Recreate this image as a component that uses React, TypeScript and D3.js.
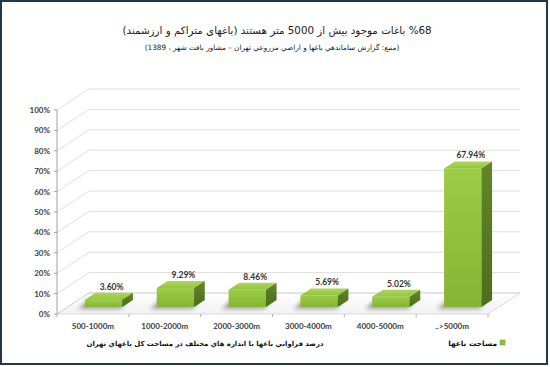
import { useEffect, useRef } from 'react'
import * as d3 from 'd3'

const categories = ['500-1000m', '1000-2000m', '2000-3000m', '3000-4000m', '4000-5000m', '..>5000m']
const shares = [3.6, 9.29, 8.46, 5.69, 5.02, 67.94]
const yTicks = [0, 10, 20, 30, 40, 50, 60, 70, 80, 90, 100]

const titleText = '%68 باغات موجود بیش از 5000 متر هستند (باغهای متراکم و ارزشمند)'
const sourceText = '(منبع: گزارش ساماندهي باغها و اراضي مزروعي تهران – مشاور بافت شهر ، 1389)'
const axisTitle = 'درصد فراواني باغها با اندازه هاي مختلف در مساحت كل باغهاي تهران'
const legendLabel = 'مساحت باغها'

const W = 550
const H = 367

export default function App() {
  const svgRef = useRef<SVGSVGElement | null>(null)

  useEffect(() => {
    if (!svgRef.current) return
    const svg = d3.select(svgRef.current)
    svg.selectAll('*').remove()

    // 3d depth of the floor and of the bars
    const depth = { dx: 32, dy: -21 }
    const x = d3.scaleBand<string>().domain(categories).range([57, 488])
    const y = d3.scaleLinear().domain([0, 100]).range([314, 110])
    const latin = 'Lato, "Open Sans", sans-serif'
    const persian = '"DejaVu Sans", sans-serif'

    const defs = svg.append('defs')
    const grad = (id: string, c1: string, c2: string, horiz = false) => {
      const g = defs.append('linearGradient').attr('id', id)
        .attr('x1', 0).attr('y1', 0).attr('x2', horiz ? 1 : 0).attr('y2', horiz ? 0 : 1)
      g.append('stop').attr('offset', '0%').attr('stop-color', c1)
      g.append('stop').attr('offset', '100%').attr('stop-color', c2)
    }
    grad('front', '#9dcc45', '#84b533')
    grad('top', '#aed757', '#93c342')
    grad('side', '#62852a', '#4e6d1d')
    grad('floor', '#ffffff', '#f2f2f2')
    defs.append('filter').attr('id', 'blur').attr('x', '-50%').attr('y', '-50%')
      .attr('width', '200%').attr('height', '200%')
      .append('feGaussianBlur').attr('stdDeviation', 2.2)

    svg.append('rect').attr('x', 1).attr('y', 1).attr('width', W - 4).attr('height', H - 4)
      .attr('fill', '#fff').attr('stroke', '#263548').attr('stroke-width', 2)

    // title
    svg.append('text').attr('x', 277).attr('y', 34).attr('text-anchor', 'middle')
      .attr('direction', 'rtl').style('unicode-bidi', 'plaintext')
      .attr('font-family', persian).attr('font-size', 10.3).attr('fill', '#222')
      .text(titleText)
    svg.append('text').attr('x', 272).attr('y', 50).attr('text-anchor', 'middle')
      .attr('direction', 'rtl').style('unicode-bidi', 'plaintext')
      .attr('font-family', persian).attr('font-size', 7.3).attr('fill', '#222')
      .text(sourceText)

    const x0 = x.range()[0]
    const x1 = x.range()[1]
    const y0 = y(0)

    // floor
    svg.append('path')
      .attr('d', `M${x0},${y0}L${x1},${y0}L${x1 + depth.dx},${y0 + depth.dy}L${x0 + depth.dx},${y0 + depth.dy}Z`)
      .attr('fill', 'url(#floor)').attr('stroke', '#d0d0d0').attr('stroke-width', 0.8)

    // wall grid
    const grid = svg.append('g').attr('stroke', '#d6d6d6').attr('stroke-width', 0.8).attr('fill', 'none')
    yTicks.forEach(t => {
      const yy = y(t)
      grid.append('path')
        .attr('d', `M${x0},${yy}L${x0 + depth.dx},${yy + depth.dy}L${x1 + depth.dx},${yy + depth.dy}`)
    })

    // y axis
    const axis = svg.append('g').attr('stroke', '#8c8c8c').attr('stroke-width', 0.8)
    axis.append('line').attr('x1', x0).attr('x2', x0).attr('y1', y(100)).attr('y2', y0)
    yTicks.forEach(t => {
      axis.append('line').attr('x1', x0 - 3).attr('x2', x0).attr('y1', y(t)).attr('y2', y(t))
    })
    svg.append('g').selectAll('text').data(yTicks).join('text')
      .attr('x', 50).attr('y', d => y(d) + 3).attr('text-anchor', 'end')
      .attr('font-family', latin).attr('font-size', 8).attr('font-weight', 700).attr('fill', '#404040')
      .text(d => `${d}%`)

    // category ticks on floor front edge
    const bounds = categories.map(c => x(c) ?? 0).concat([x1])
    svg.append('g').selectAll('line').data(bounds).join('line')
      .attr('x1', d => d).attr('x2', d => d).attr('y1', y0).attr('y2', y0 + 3)
      .attr('stroke', '#a0a0a0').attr('stroke-width', 0.8)

    svg.append('g').selectAll('text').data(categories).join('text')
      .attr('x', d => (x(d) ?? 0) + x.bandwidth() / 2).attr('y', 329).attr('text-anchor', 'middle')
      .attr('font-family', latin).attr('font-size', 8).attr('font-weight', 700).attr('fill', '#404040')
      .text(d => d)

    // bars
    const f = { dx: depth.dx / 3, dy: depth.dy / 3 }
    const half = x.bandwidth() * 0.26
    const bars = svg.append('g')
    categories.forEach((c, i) => {
      const v = shares[i]
      const cx = (x(c) ?? 0) + x.bandwidth() / 2 + f.dx
      const l = cx - half
      const r = cx + half
      const b = y0 + f.dy
      const t = y(v) + f.dy
      const g = bars.append('g')
      g.append('path')
        .attr('d', `M${l - 7},${b + 2}L${r - 2},${b + 2}L${r + f.dx - 4},${b + f.dy}L${l + f.dx - 8},${b + f.dy}Z`)
        .attr('fill', '#4a4a4a').attr('opacity', 0.5).attr('filter', 'url(#blur)')
      g.append('rect').attr('x', l).attr('y', t).attr('width', r - l).attr('height', b - t)
        .attr('fill', 'url(#front)')
      g.append('path')
        .attr('d', `M${l},${t}L${r},${t}L${r + f.dx},${t + f.dy}L${l + f.dx},${t + f.dy}Z`)
        .attr('fill', 'url(#top)')
      g.append('path')
        .attr('d', `M${r},${t}L${r + f.dx},${t + f.dy}L${r + f.dx},${b + f.dy}L${r},${b}Z`)
        .attr('fill', 'url(#side)')
      g.append('text').attr('x', cx + 8).attr('y', t + f.dy - 3).attr('text-anchor', 'middle')
        .attr('font-family', latin).attr('font-size', 8.5).attr('font-weight', 700).attr('fill', '#333')
        .text(`${v.toFixed(2)}%`)
    })

    // axis title and legend
    svg.append('text').attr('x', 205).attr('y', 346).attr('text-anchor', 'middle')
      .attr('direction', 'rtl').style('unicode-bidi', 'plaintext')
      .attr('font-family', persian).attr('font-size', 6.9).attr('font-weight', 700).attr('fill', '#111')
      .text(axisTitle)
    svg.append('rect').attr('x', 500).attr('y', 340).attr('width', 5).attr('height', 5)
      .attr('fill', '#8dc03a').attr('stroke', '#6e9a2a').attr('stroke-width', 0.5)
    svg.append('text').attr('x', 497).attr('y', 346).attr('text-anchor', 'start')
      .attr('direction', 'rtl').style('unicode-bidi', 'plaintext')
      .attr('font-family', persian).attr('font-size', 7.4).attr('font-weight', 700).attr('fill', '#111')
      .text(legendLabel)
  }, [])

  return (
    <svg ref={svgRef} width={W} height={H}
      style={{ position: 'absolute', left: 0, top: 0, display: 'block' }} />
  )
}
